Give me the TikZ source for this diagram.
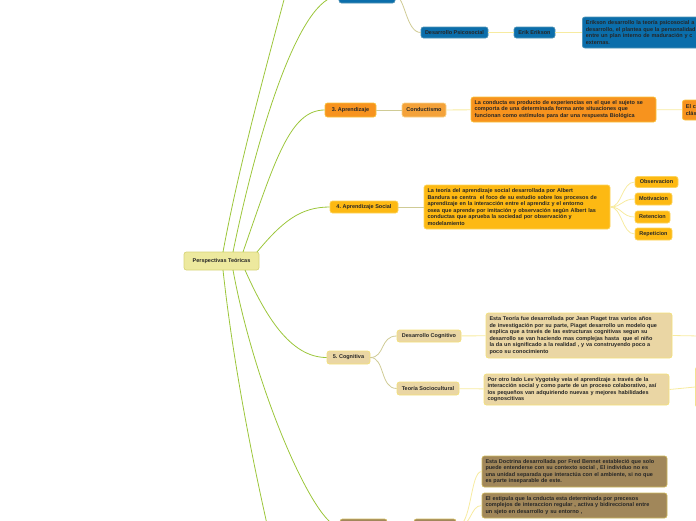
\documentclass[tikz,border=0pt]{standalone}
\usepackage{fontspec}
\setmainfont{Liberation Sans}
\definecolor{gline}{HTML}{9CC63B}
\definecolor{yline}{HTML}{F7EBA0}
\definecolor{oline}{HTML}{CFCB95}
\definecolor{bluef}{HTML}{0B6EAB}
\definecolor{blueb}{HTML}{4F93B5}
\definecolor{orf}{HTML}{F7931E}
\definecolor{orb}{HTML}{F9C23C}
\definecolor{orcf}{HTML}{F4A23A}
\definecolor{orcb}{HTML}{F8D38A}
\definecolor{goldf}{HTML}{FDB913}
\definecolor{goldb}{HTML}{FCD45C}
\definecolor{tanf}{HTML}{EAD6A4}
\definecolor{tanb}{HTML}{F3E07A}
\definecolor{brf}{HTML}{A1875A}
\definecolor{brb}{HTML}{CDB85E}
\definecolor{cenf}{HTML}{EDE99E}
\definecolor{cenb}{HTML}{D8D47A}
\definecolor{txt}{HTML}{262626}
\newcommand{\fsz}{\fontsize{5.5}{6.5}\selectfont\bfseries}
\tikzset{
  box/.style={draw, rounded corners=2.5pt, line width=0.7pt, inner sep=0pt, font=\fsz, text=txt, align=center},
  sz/.style 2 args={minimum width=#1pt, minimum height=#2pt},
  tbox/.style={box, align=left, inner xsep=3.5pt, inner ysep=1pt, text width=#1pt},
  blue/.style={fill=bluef, draw=blueb},
  ora/.style={fill=orf, draw=orb},
  orc/.style={fill=orcf, draw=orcb},
  gold/.style={fill=goldf, draw=goldb},
  tan/.style={fill=tanf, draw=tanb},
  brn/.style={fill=brf, draw=brb},
  cen/.style={fill=cenf, draw=cenb},
  mainl/.style={draw=gline, line width=0.8pt},
  subl/.style={draw=yline, line width=0.8pt},
  oliv/.style={draw=oline, line width=0.8pt}
}
\begin{document}
\begin{tikzpicture}[x=1pt,y=-1pt]
\useasboundingbox (0,0) rectangle (696,520);
\clip (0,0) rectangle (696,520);

% central
\node[box,cen,sz={75}{18}] (c) at (221.5,261) {Perspectivas Teóricas};

% branch 2 (blue, top)
\node[box,blue,sz={56}{14}] (b2) at (367,-4) {};
\node[box,blue,sz={67}{11}] (psico) at (454.5,32.5) {Desarrollo Psicosocial};
\node[box,blue,sz={41}{11}] (erik) at (534.5,32.5) {Erik Erikson};
\node[box,blue,tbox=173,minimum height=31pt,anchor=west] (eriktext) at (582,32.5) {Erikson desarrollo la teoría psicosocial a\\desarrollo, el plantea que la personalidad\\entre un plan interno de maduración y c\\externas.};

% branch 3
\node[box,ora,sz={51}{14}] (a3) at (350.5,110) {3.\ Aprendizaje};
\node[box,orc,sz={44}{14}] (cond) at (424,110) {Conductismo};
\node[box,ora,tbox=178,minimum height=25pt] (condt) at (563.5,109.5) {La conducta es producto de experiencias en el que el sujeto se\\comporta de una determinada forma ante situaciones que\\funcionan como estímulos para dar una respuesta Biológica};
\node[box,ora,tbox=173,minimum height=20pt,anchor=west] (clas) at (682,110) {El c\\clás};

% branch 4
\node[box,gold,sz={68}{12}] (a4) at (364,207) {4.\ Aprendizaje Social};
\node[box,gold,tbox=179,minimum height=44pt] (a4t) at (517,207) {La teoría del aprendizaje social desarrollada por Albert\\Bandura se centra \ el foco de su estudio sobre los procesos de\\aprendizaje en la interacción entre el aprendiz y el entorno\\osea que aprende por imitación y observación según Albert las\\conductas que aprueba la sociedad por observación y\\modelamiento};
\node[box,gold,sz={43}{11}] (obs) at (656.5,182) {Observacion};
\node[box,gold,sz={37}{12}] (mot) at (653.5,199) {Motivacion};
\node[box,gold,sz={35}{12}] (ret) at (652.5,217) {Retencion};
\node[box,gold,sz={37}{12}] (rep) at (653.5,234) {Repeticion};

% branch 5
\node[box,tan,sz={43}{13}] (c5) at (348.5,357.5) {5.\ Cognitiva};
\node[box,tan,sz={64}{12}] (dcog) at (429,336) {Desarrollo Cognitivo};
\node[box,tan,sz={62}{13}] (tsoc) at (428,388.5) {Teoría Sociocultural};
\node[box,tan,tbox=179,minimum height=45pt] (pia) at (579,335.5) {Esta Teoría fue desarrollada por Jean Piaget tras varios años\\de investigación por su parte, Piaget desarrollo un modelo que\\explica que a través de las estructuras cognitivas segun su\\desarrollo se van haciendo mas complejas hasta \ que el niño\\la da un significado a la realidad , y va construyendo poco a\\poco su conocimiento};
\node[box,tan,tbox=178,minimum height=31pt] (vyg) at (576.5,389.5) {Por otro lado Lev Vygotsky veía el aprendizaje a través de la\\interacción social y como parte de un proceso colaborativo, así\\los pequeños van adquiriendo nuevas y mejores habilidades\\cognoscitivas};
\node[box,tan,sz={60}{40},anchor=west] (vygr) at (695,387) {};
\coordinate (piar) at (700,336);

% branch 6 (bottom)
\node[box,brn,sz={47}{16}] (b6) at (363.5,527) {};
\node[box,brn,sz={42}{16}] (b6s) at (435,527) {};
\node[box,brn,tbox=178,minimum height=31pt] (ben) at (574.5,471.5) {Esta Doctrina desarrollada por Fred Bennet estableció que solo\\puede entenderse con su contexto social , El individuo no es\\una unidad separada que interactúa con el ambiente, si no que\\es parte inseparable de este.};
\node[box,brn,tbox=178,minimum height=25pt] (est) at (574.5,505.5) {El estipula que la cnducta esta determinada por precesos\\complejos de interaccion regular , activa y bidireccional entre\\un sjeto en desarrollo y su entorno ,};

% off-page coordinates
\coordinate (top1) at (300,-60);
\coordinate (bot1) at (285,600);

% main connectors
\draw[mainl] (223,252) .. controls (240,160) and (268,60) .. (top1);
\draw[mainl] (233,252) .. controls (258,130) and (300,-4) .. (b2.west);
\draw[mainl] (243,252) .. controls (275,160) and (290,110) .. (a3.west);
\draw[mainl] (257,252) .. controls (282,222) and (300,207) .. (a4.west);
\draw[mainl] (245,270) .. controls (265,315) and (290,357.5) .. (c5.west);
\draw[mainl] (233,270) .. controls (255,390) and (315,527) .. (b6.west);
\draw[mainl] (223,270) .. controls (235,380) and (260,500) .. (bot1);

% sub connectors
\draw[oliv] (b2.east) .. controls (405,-4) and (406,32.5) .. (psico.west);
\draw[subl] (psico) -- (erik);
\draw[subl] (erik) -- (eriktext);
\draw[oliv] (a3) -- (cond);
\draw[subl] (cond) -- (condt);
\draw[subl] (condt) -- (clas);
\draw[oliv] (a4) -- (a4t);
\foreach \n in {obs,mot,ret,rep}
  \draw[subl] (a4t.east) .. controls (622,207) and (622,0|-\n.west) .. (\n.west);
\draw[oliv] (c5.east) .. controls (385,357.5) and (380,336) .. (dcog.west);
\draw[oliv] (c5.east) .. controls (385,357.5) and (380,388.5) .. (tsoc.west);
\draw[subl] (dcog) -- (pia);
\draw[subl] (tsoc) -- (vyg);
\draw[subl] (pia.east) -- (piar);
\draw[subl] (vyg.east) -- (vygr.west);
\draw[oliv] (b6) -- (b6s);
\draw[subl] (b6s.east) .. controls (472,527) and (470,471.5) .. (ben.west);
\draw[subl] (b6s.east) .. controls (472,527) and (470,505.5) .. (est.west);
\end{tikzpicture}
\end{document}
